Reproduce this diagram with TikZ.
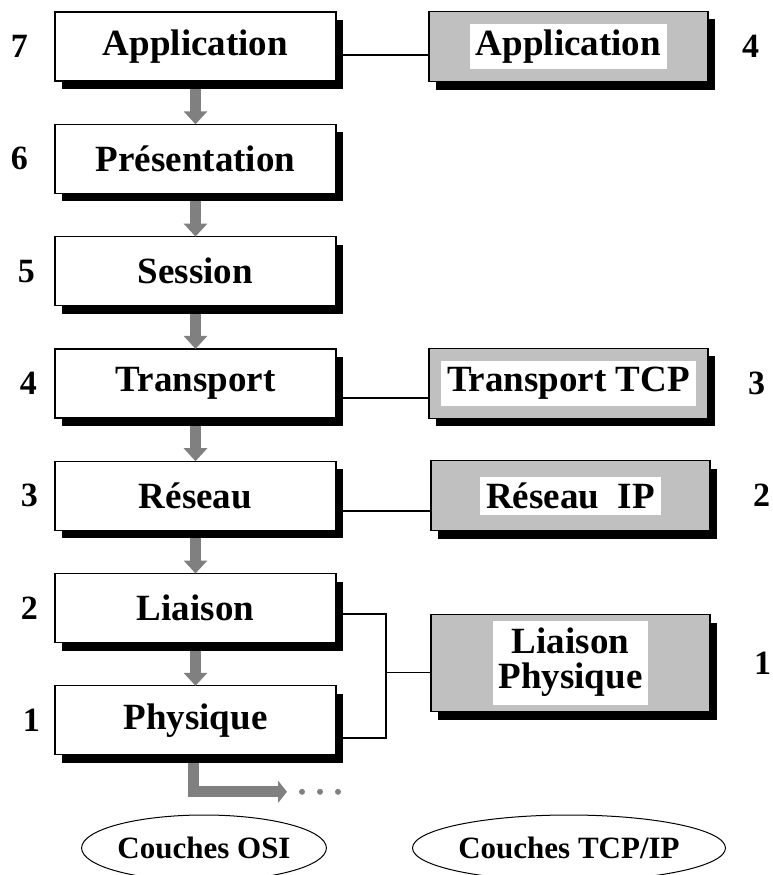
\documentclass[tikz,border=0pt]{standalone}
\usepackage{fontspec}
\setmainfont{Liberation Serif}
\usetikzlibrary{arrows.meta,positioning,shapes.geometric,shadows}
\definecolor{arrowGray}{RGB}{128,128,128}
\definecolor{tcpFill}{RGB}{192,192,192}
\setlength{\fboxsep}{6pt}
\tikzset{
  box/.style={draw=black, line width=1.2pt, fill=white, minimum width=281pt, minimum height=69pt, inner sep=0pt, outer sep=0pt, font=\fontsize{37}{40}\selectfont\bfseries, drop shadow={shadow xshift=7pt, shadow yshift=-8pt, fill=black, opacity=1}},
  osibox/.style={box},
  tcpbox/.style={box, fill=tcpFill, minimum width=279pt, minimum height=70pt},
  layernum/.style={inner sep=0pt, font=\fontsize{34}{36}\selectfont\bfseries},
  flow/.style={-{Triangle[length=13pt,width=23pt]}, line width=11pt, draw=arrowGray, shorten <=8pt},
  link/.style={draw=black, line width=1.2pt},
  caption/.style={ellipse, draw=black, line width=1pt, minimum width=244pt, minimum height=66pt, inner sep=0pt, font=\fontsize{31}{33}\selectfont\bfseries}
}

\begin{document}
\begin{tikzpicture}[x=1pt, y=-1pt]
    \useasboundingbox (0,0) rectangle (772,875);
    % OSI stack
    \node[osibox] (app) at (195.5,46.5) {Application};
    \node[osibox, below=43.3pt of app] (pres) {Présentation};
    \node[osibox, below=43.3pt of pres] (sess) {Session};
    \node[osibox, below=43.3pt of sess] (trans) {Transport};
    \node[osibox, below=43.3pt of trans] (res) {Réseau};
    \node[osibox, below=43.3pt of res] (liai) {Liaison};
    \node[osibox, below=43.3pt of liai] (phys) {Physique};
    % TCP/IP stack
    \node[tcpbox, right=93pt of app] (tcpapp) {\colorbox{white}{Application}};
    \node[tcpbox, right=93pt of trans] (tcptrans) {\colorbox{white}{Transport TCP}};
    \node[tcpbox, right=95pt of res] (tcpres) {\colorbox{white}{Réseau\ \ IP}};
    \node[tcpbox, minimum height=97pt, below=84pt of tcpres] (tcplink) {\renewcommand\arraystretch{0.85}\colorbox{white}{\begin{tabular}{@{}c@{}}Liaison\\Physique\end{tabular}}};
    % layer numbers
    \node[layernum, left=27pt of app] (n7) {7};
    \node[layernum, left=27pt of pres] (n6) {6};
    \node[layernum, left=20pt of sess] (n5) {5};
    \node[layernum, left=18pt of trans] (n4) {4};
    \node[layernum, left=17pt of res] (n3) {3};
    \node[layernum, left=17pt of liai] (n2) {2};
    \node[layernum, left=15pt of phys] (n1) {1};
    \node[layernum, right=34pt of tcpapp] (m4) {4};
    \node[layernum, right=40pt of tcptrans] (m3) {3};
    \node[layernum, right=43pt of tcpres] (m2) {2};
    \node[layernum, right=44pt of tcplink] (m1) {1};
    % captions
    \node[caption] (osicap) at (204,848) {Couches OSI};
    \node[caption, minimum width=272pt] (tcpcap) at (569,848) {Couches TCP/IP};
    % flow down the stack
    \draw[flow] (app) -- (pres);
    \draw[flow] (pres) -- (sess);
    \draw[flow] (sess) -- (trans);
    \draw[flow] (trans) -- (res);
    \draw[flow] (res) -- (liai);
    \draw[flow] (liai) -- (phys);
    \coordinate (tail) at ([shift={(91.5pt,-37pt)}]phys.south);
    \draw[flow, -{Triangle[length=9pt,width=22pt]}, line join=miter] ([xshift=-2pt]phys.south) |- (tail);
    \foreach \k in {1,2,3}
      \fill[arrowGray] ([xshift=\k*18pt-3pt]tail) circle (3pt);
    % correspondences
    \draw[link] ([shift={(7pt,-8.5pt)}]app.east) -- ([yshift=-8.5pt]app.east -| tcpapp.west);
    \draw[link] ([shift={(7pt,-14.6pt)}]trans.east) -- ([yshift=-14.6pt]trans.east -| tcptrans.west);
    \draw[link] ([shift={(7pt,-15.3pt)}]res.east) -- ([yshift=-15.3pt]res.east -| tcpres.west);
    \coordinate (bus) at ([xshift=50pt]liai.east);
    \draw[link] ([shift={(7pt,-6pt)}]liai.east) -| ([shift={(50pt,-17.7pt)}]phys.east) -- ([shift={(7pt,-17.7pt)}]phys.east);
    \draw[link] ([yshift=-9.5pt]tcplink.west) -- ([yshift=-9.5pt]tcplink.west -| bus);
\end{tikzpicture}
\end{document}
